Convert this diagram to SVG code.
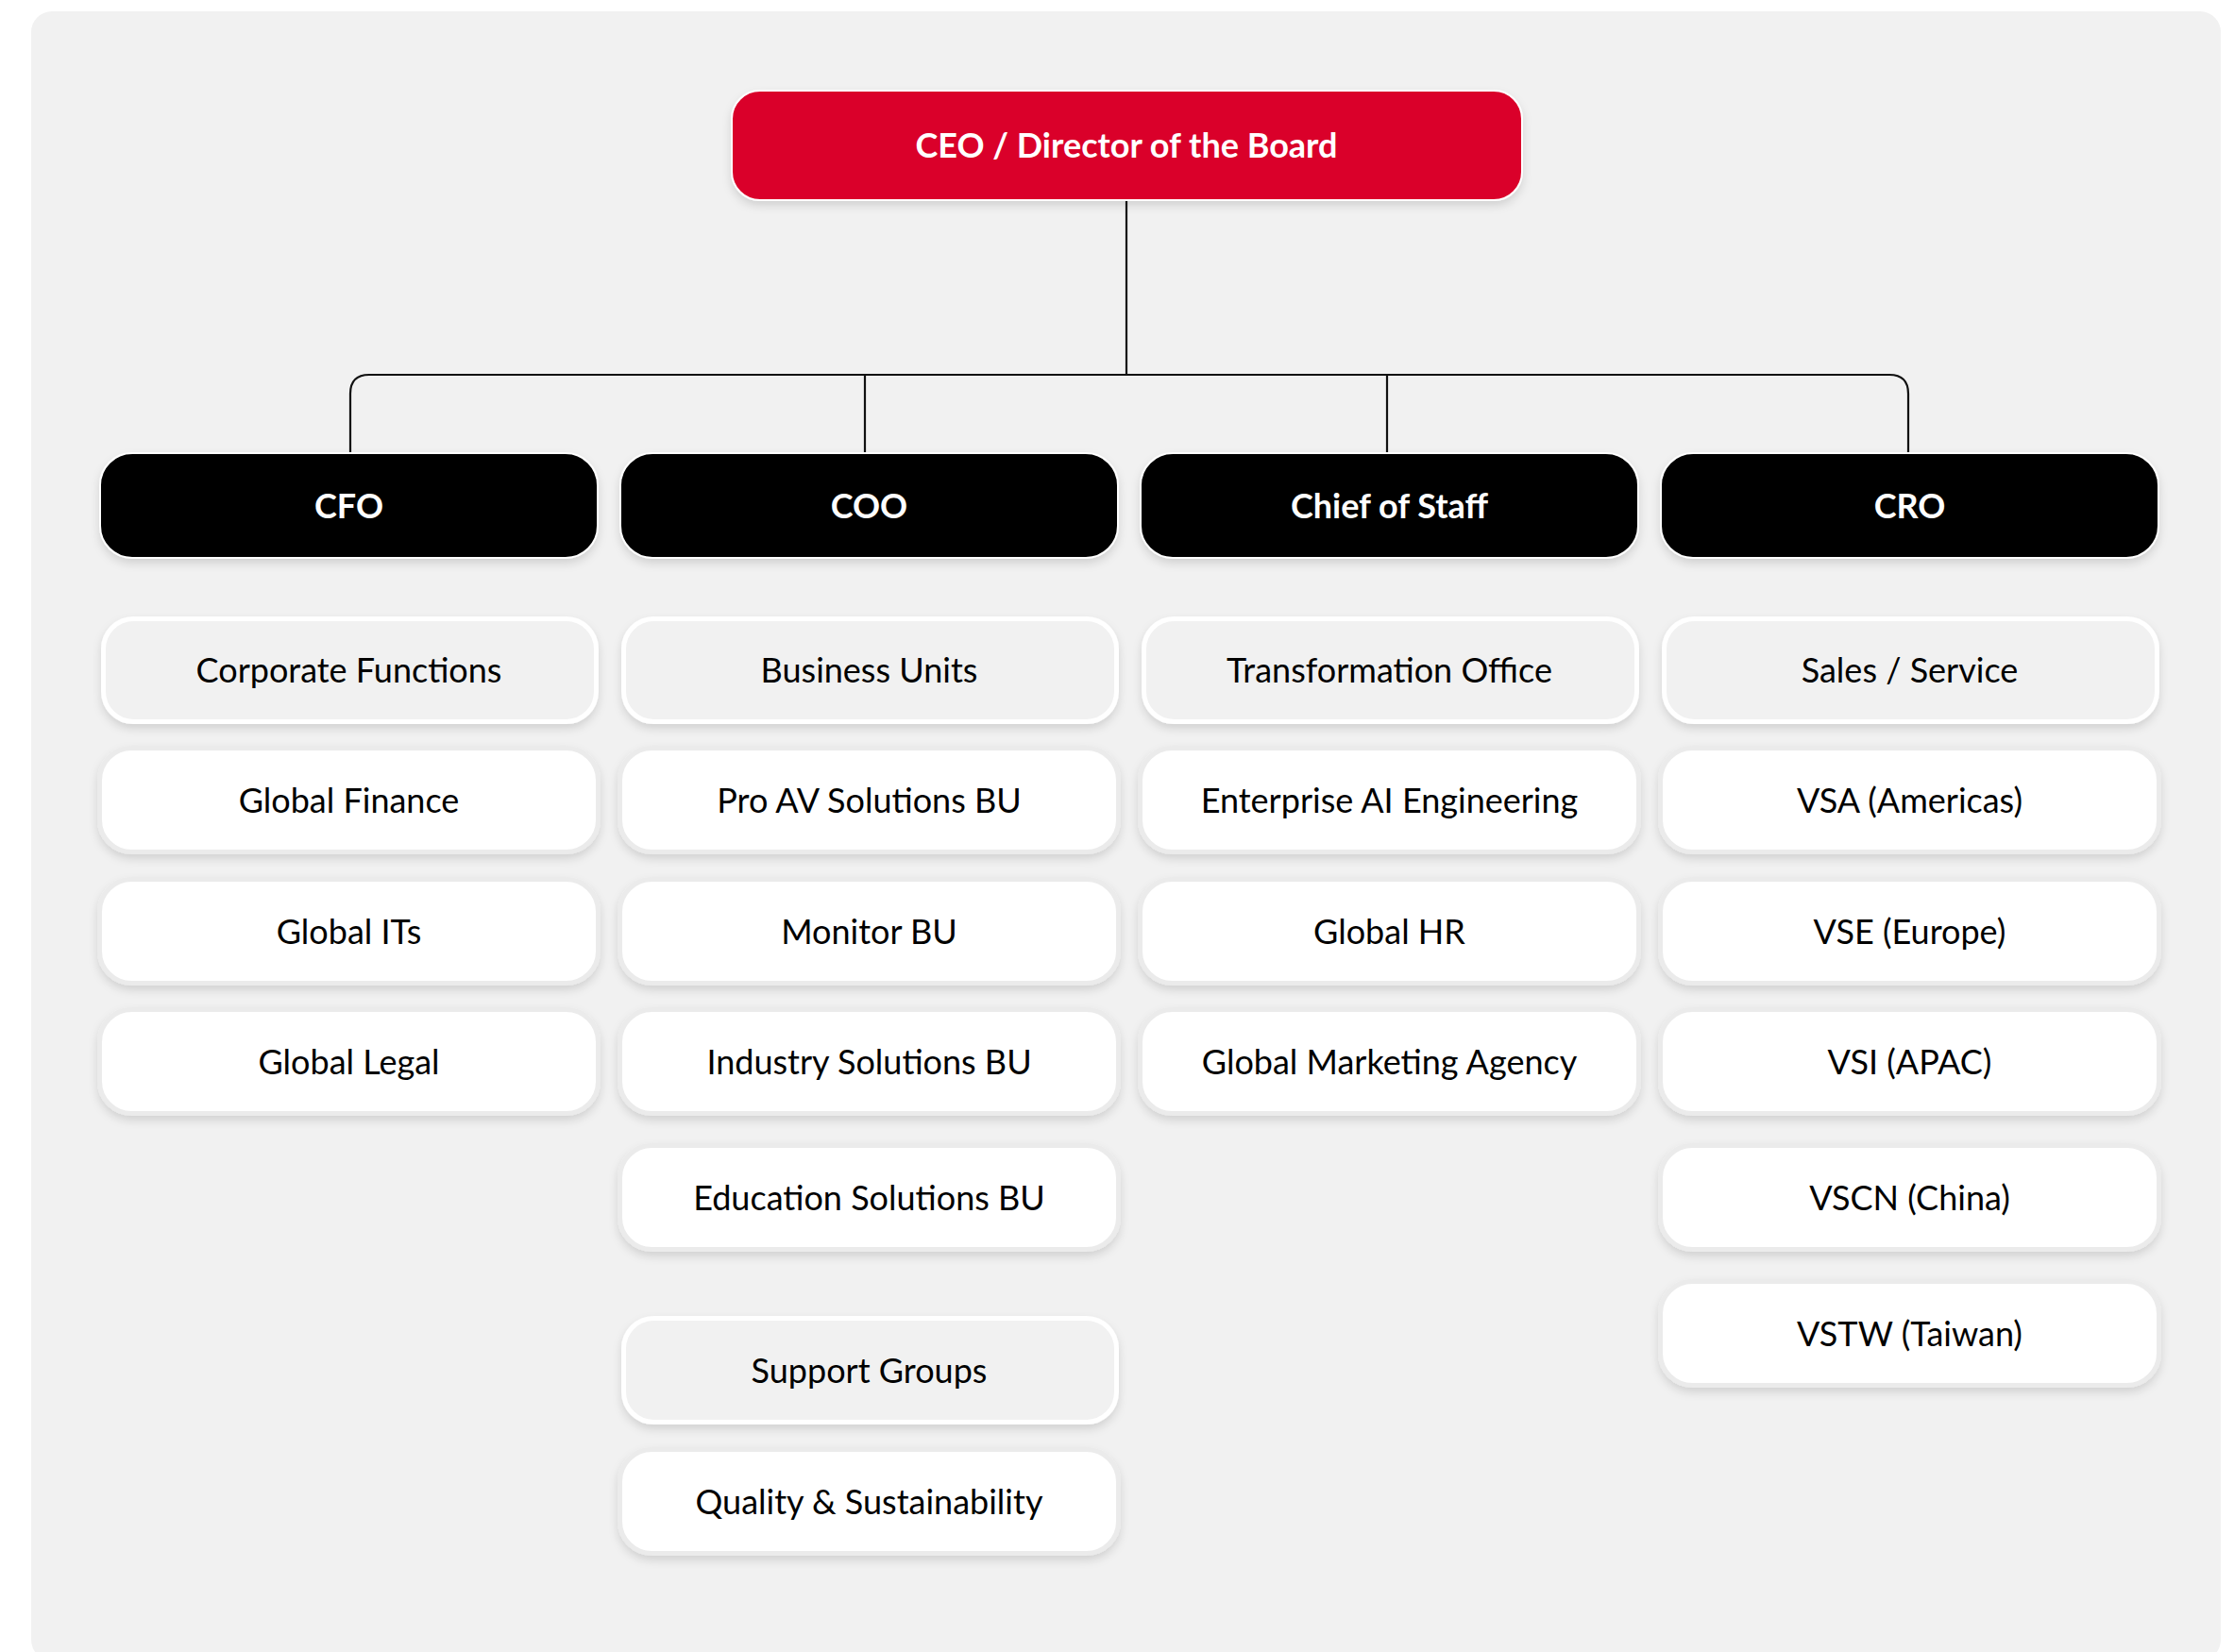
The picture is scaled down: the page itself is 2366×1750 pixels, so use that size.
<svg xmlns="http://www.w3.org/2000/svg" width="2366" height="1750" viewBox="0 0 2366 1750">
  <style>
    .panel { fill: #f1f1f1; }
    .ceo { fill: #da0029; stroke: #ffffff; stroke-width: 2; }
    .head { fill: #000000; stroke: #ffffff; stroke-width: 2; }
    .grp { fill: #f1f1f1; stroke: #ffffff; stroke-width: 5; }
    .item { fill: #ffffff; stroke: #ebebeb; stroke-width: 5; }
    .tb { font-family: Lato, "Liberation Sans", sans-serif; font-weight: 700; font-size: 36px; fill: #ffffff; text-anchor: middle; }
    .tr { font-family: Lato, "Liberation Sans", sans-serif; font-weight: 400; font-size: 36px; fill: #000000; text-anchor: middle; }
    .conn { fill: none; stroke: #111111; stroke-width: 2.2; }
  </style>
  <defs>
    <filter id="sh" x="-10%" y="-30%" width="120%" height="170%">
      <feDropShadow dx="0" dy="5" stdDeviation="5" flood-color="#000000" flood-opacity="0.13"/>
    </filter>
  </defs>
  <rect width="2366" height="1750" fill="#ffffff"/>
  <rect class="panel" x="33" y="12" width="2319" height="1747" rx="22"/>

  <g id="connectors">
    <path class="conn" d="M1193,213 V397"/>
    <path class="conn" d="M371,480 V417 Q371,397 391,397 H2001 Q2021,397 2021,417 V480"/>
    <path class="conn" d="M916,397 V480"/>
    <path class="conn" d="M1469,397 V480"/>
  </g>

  <g id="ceo">
    <rect class="ceo" x="775" y="96" width="837" height="116" rx="30" filter="url(#sh)"/>
    <text class="tb" x="1193" y="167">CEO / Director of the Board</text>
  </g>

  <g id="cfo">
    <rect class="head" x="106" y="480" width="527" height="111" rx="34" filter="url(#sh)"/>
    <text class="tb" x="369.5" y="549">CFO</text>
  </g>
  <g id="coo">
    <rect class="head" x="657" y="480" width="527" height="111" rx="34" filter="url(#sh)"/>
    <text class="tb" x="920.5" y="549">COO</text>
  </g>
  <g id="chief-of-staff">
    <rect class="head" x="1208" y="480" width="527" height="111" rx="34" filter="url(#sh)"/>
    <text class="tb" x="1471.5" y="549">Chief of Staff</text>
  </g>
  <g id="cro">
    <rect class="head" x="1759" y="480" width="527" height="111" rx="34" filter="url(#sh)"/>
    <text class="tb" x="2022.5" y="549">CRO</text>
  </g>

  <!-- CFO column -->
  <g id="corporate-functions">
    <rect class="grp" x="109.5" y="655.5" width="522" height="109" rx="32" filter="url(#sh)"/>
    <text class="tr" x="369.5" y="723">Corporate Functions</text>
  </g>
  <g id="global-finance">
    <rect class="item" x="105.5" y="792.5" width="528" height="110" rx="34" filter="url(#sh)"/>
    <text class="tr" x="369.5" y="861">Global Finance</text>
  </g>
  <g id="global-its">
    <rect class="item" x="105.5" y="931.5" width="528" height="110" rx="34" filter="url(#sh)"/>
    <text class="tr" x="369.5" y="1000">Global ITs</text>
  </g>
  <g id="global-legal">
    <rect class="item" x="105.5" y="1069.5" width="528" height="110" rx="34" filter="url(#sh)"/>
    <text class="tr" x="369.5" y="1138">Global Legal</text>
  </g>

  <!-- COO column -->
  <g id="business-units">
    <rect class="grp" x="660.5" y="655.5" width="522" height="109" rx="32" filter="url(#sh)"/>
    <text class="tr" x="920.5" y="723">Business Units</text>
  </g>
  <g id="pro-av">
    <rect class="item" x="656.5" y="792.5" width="528" height="110" rx="34" filter="url(#sh)"/>
    <text class="tr" x="920.5" y="861">Pro AV Solutions BU</text>
  </g>
  <g id="monitor-bu">
    <rect class="item" x="656.5" y="931.5" width="528" height="110" rx="34" filter="url(#sh)"/>
    <text class="tr" x="920.5" y="1000">Monitor BU</text>
  </g>
  <g id="industry-solutions">
    <rect class="item" x="656.5" y="1069.5" width="528" height="110" rx="34" filter="url(#sh)"/>
    <text class="tr" x="920.5" y="1138">Industry Solutions BU</text>
  </g>
  <g id="education-solutions">
    <rect class="item" x="656.5" y="1213.5" width="528" height="110" rx="34" filter="url(#sh)"/>
    <text class="tr" x="920.5" y="1282">Education Solutions BU</text>
  </g>
  <g id="support-groups">
    <rect class="grp" x="660.5" y="1396.5" width="522" height="110" rx="32" filter="url(#sh)"/>
    <text class="tr" x="920.5" y="1465">Support Groups</text>
  </g>
  <g id="quality-sustainability">
    <rect class="item" x="656.5" y="1535.5" width="528" height="110" rx="34" filter="url(#sh)"/>
    <text class="tr" x="920.5" y="1604">Quality &amp; Sustainability</text>
  </g>

  <!-- Chief of Staff column -->
  <g id="transformation-office">
    <rect class="grp" x="1211.5" y="655.5" width="522" height="109" rx="32" filter="url(#sh)"/>
    <text class="tr" x="1471.5" y="723">Transformation Office</text>
  </g>
  <g id="enterprise-ai">
    <rect class="item" x="1207.5" y="792.5" width="528" height="110" rx="34" filter="url(#sh)"/>
    <text class="tr" x="1471.5" y="861">Enterprise AI Engineering</text>
  </g>
  <g id="global-hr">
    <rect class="item" x="1207.5" y="931.5" width="528" height="110" rx="34" filter="url(#sh)"/>
    <text class="tr" x="1471.5" y="1000">Global HR</text>
  </g>
  <g id="global-marketing">
    <rect class="item" x="1207.5" y="1069.5" width="528" height="110" rx="34" filter="url(#sh)"/>
    <text class="tr" x="1471.5" y="1138">Global Marketing Agency</text>
  </g>

  <!-- CRO column -->
  <g id="sales-service">
    <rect class="grp" x="1762.5" y="655.5" width="522" height="109" rx="32" filter="url(#sh)"/>
    <text class="tr" x="2022.5" y="723">Sales / Service</text>
  </g>
  <g id="vsa">
    <rect class="item" x="1758.5" y="792.5" width="528" height="110" rx="34" filter="url(#sh)"/>
    <text class="tr" x="2022.5" y="861">VSA (Americas)</text>
  </g>
  <g id="vse">
    <rect class="item" x="1758.5" y="931.5" width="528" height="110" rx="34" filter="url(#sh)"/>
    <text class="tr" x="2022.5" y="1000">VSE (Europe)</text>
  </g>
  <g id="vsi">
    <rect class="item" x="1758.5" y="1069.5" width="528" height="110" rx="34" filter="url(#sh)"/>
    <text class="tr" x="2022.5" y="1138">VSI (APAC)</text>
  </g>
  <g id="vscn">
    <rect class="item" x="1758.5" y="1213.5" width="528" height="110" rx="34" filter="url(#sh)"/>
    <text class="tr" x="2022.5" y="1282">VSCN (China)</text>
  </g>
  <g id="vstw">
    <rect class="item" x="1758.5" y="1357.5" width="528" height="110" rx="34" filter="url(#sh)"/>
    <text class="tr" x="2022.5" y="1426">VSTW (Taiwan)</text>
  </g>
</svg>
